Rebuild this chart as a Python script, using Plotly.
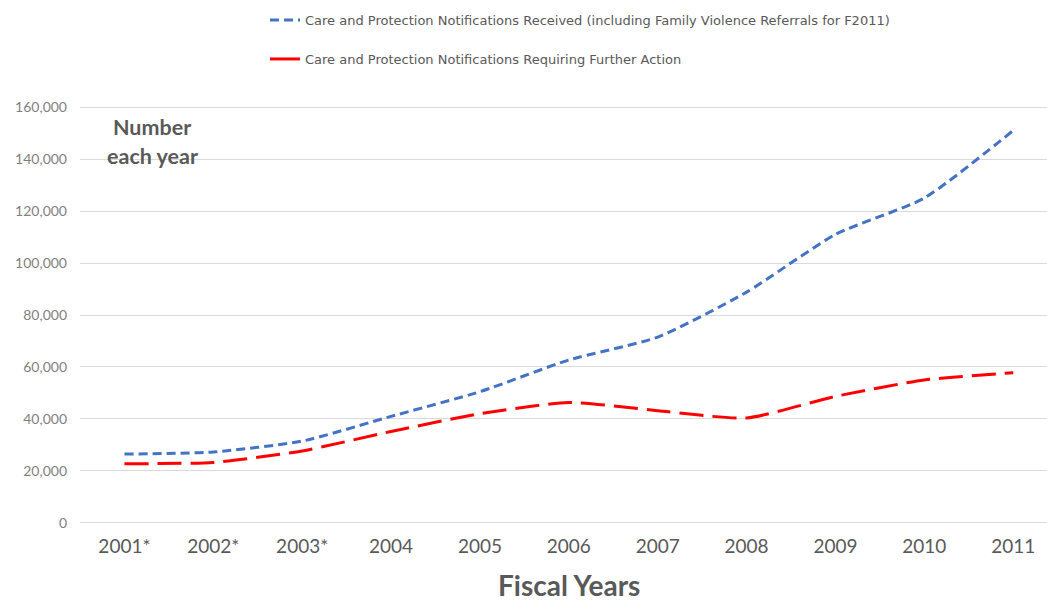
import plotly.graph_objects as go

# Fiscal years shown on the category axis
years = ["2001*", "2002*", "2003*", "2004", "2005", "2006",
         "2007", "2008", "2009", "2010", "2011"]

# Care and protection notifications received (incl. family violence referrals for F2011)
received = [26500, 27300, 31500, 41000, 50500, 62700, 71500, 88800, 111000, 125000, 151000]

# Care and protection notifications requiring further action
further_action = [22800, 23300, 27700, 35200, 42000, 46300, 43200, 40400, 48700, 55000, 57800]

y_ticks = [0, 20000, 40000, 60000, 80000, 100000, 120000, 140000, 160000]

BLUE = "#4472C4"
RED = "#FF0000"
GREY_TEXT = "#595959"
GRID = "#D9D9D9"
FONT = "Lato, 'Open Sans', sans-serif"
LEGEND_FONT = "'DejaVu Sans', sans-serif"

x = list(range(len(years)))

fig = go.Figure()

fig.add_trace(go.Scatter(
    x=x, y=received, mode="lines", line_shape="spline",
    line=dict(color=BLUE, width=3, dash="9px,5px", smoothing=0.6),
    name="Care and Protection Notifications Received (including Family Violence Referrals for F2011)",
    legend="legend", hoverinfo="skip",
))
fig.add_trace(go.Scatter(
    x=x, y=further_action, mode="lines", line_shape="spline",
    line=dict(color=RED, width=3, dash="24px,9px", smoothing=0.6),
    name="Care and Protection Notifications Requiring Further Action",
    showlegend=False, hoverinfo="skip",
))
# Legend key for the second series is drawn as a solid stroke
fig.add_trace(go.Scatter(
    x=[None], y=[None], mode="lines",
    line=dict(color=RED, width=3),
    name="Care and Protection Notifications Requiring Further Action",
    legend="legend2",
))

legend_common = dict(
    xref="container", yref="container", xanchor="left", yanchor="middle",
    bgcolor="rgba(0,0,0,0)", borderwidth=0, itemwidth=30,
    font=dict(family=LEGEND_FONT, size=13, color=GREY_TEXT),
)

fig.update_layout(
    width=1047, height=602,
    paper_bgcolor="white", plot_bgcolor="white",
    margin=dict(l=80, r=0, t=106, b=78, autoexpand=False),
    font=dict(family=FONT, color=GREY_TEXT),
    legend=dict(x=265 / 1047, y=1 - 20 / 602, **legend_common),
    legend2=dict(x=265 / 1047, y=1 - 59 / 602, **legend_common),
    xaxis=dict(
        range=[-0.5, 10.38], tickmode="array", tickvals=x, ticktext=years,
        showgrid=False, zeroline=False, showline=False, ticks="",
        tickfont=dict(family=FONT, size=19, color=GREY_TEXT),
        tickangle=0, ticklabelstandoff=9, fixedrange=True,
    ),
    yaxis=dict(
        range=[-400, 160400], tickmode="array", tickvals=y_ticks,
        tickformat=",", showgrid=True, gridcolor=GRID, gridwidth=1,
        zeroline=False, showline=False, ticks="",
        tickfont=dict(family=FONT, size=14, color="#7F7F7F"),
        ticklabelstandoff=12, fixedrange=True,
    ),
    annotations=[
        dict(text="<b>Number</b>", xref="paper", yref="paper",
             x=(152 - 80) / 967, y=(524 - 127) / 418, showarrow=False,
             xanchor="center", yanchor="middle",
             font=dict(family=FONT, size=21.5, color=GREY_TEXT)),
        dict(text="<b>each year</b>", xref="paper", yref="paper",
             x=(152 - 80) / 967, y=(524 - 156) / 418, showarrow=False,
             xanchor="center", yanchor="middle",
             font=dict(family=FONT, size=21.5, color=GREY_TEXT)),
        dict(text="<b>Fiscal Years</b>", xref="paper", yref="paper",
             x=(569 - 80) / 967, y=(524 - 585) / 418, showarrow=False,
             xanchor="center", yanchor="middle",
             font=dict(family=FONT, size=28, color=GREY_TEXT)),
    ],
)

fig.write_html("out.html")
